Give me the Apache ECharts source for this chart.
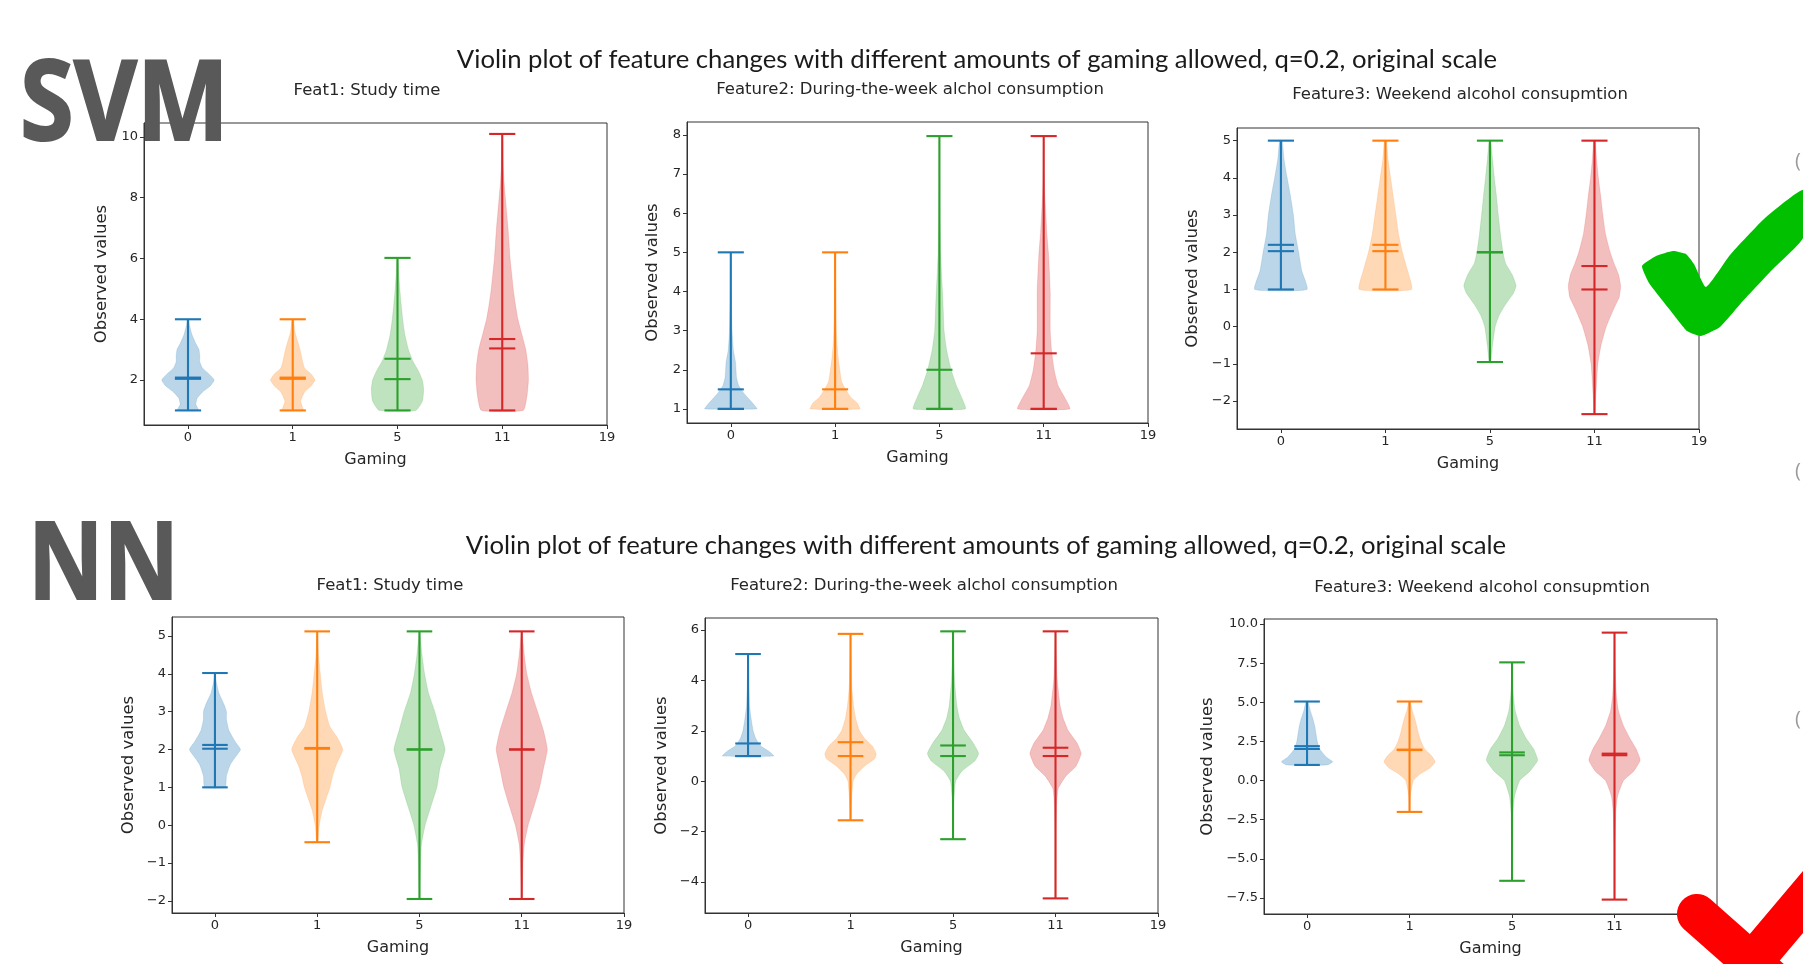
<!DOCTYPE html>
<html>
<head>
<meta charset="utf-8">
<script src="https://cdn.jsdelivr.net/npm/echarts@6/dist/echarts.min.js"></script>
<style>
  html, body { margin: 0; padding: 0; background: #fff; }
  #main { width: 1803px; height: 964px; }
</style>
</head>
<body>
<div id="main"></div>
<script>
// violin positions on the x axis and the tick labels shown
const positions = [1, 2, 3, 4];
const xTickPos = [1, 2, 3, 4, 5];
const xTickLabels = ['0', '1', '5', '11', '19'];
const colors = ['#1f77b4', '#ff7f0e', '#2ca02c', '#d62728'];

// ---- SVM, Feat1: Study time
const svmStudyMin = [1, 1, 1, 1];
const svmStudyMax = [4, 4, 6.02, 10.1];
const svmStudyMean = [2.08, 2.08, 2.7, 3.35];
const svmStudyMedian = [2.04, 2.04, 2.03, 3.04];
// [value, relative half width]
const svmStudyShape = [
  [[1,0.4],[1.2,0.3],[1.4,0.35],[1.6,0.55],[1.8,0.85],[2,1],[2.2,0.8],[2.4,0.55],[2.6,0.45],[2.8,0.45],[3,0.42],[3.2,0.3],[3.5,0.15],[3.8,0.06],[4,0.03]],
  [[1,0.4],[1.3,0.3],[1.6,0.45],[1.8,0.7],[2,0.85],[2.2,0.7],[2.4,0.45],[2.6,0.38],[2.8,0.33],[3,0.28],[3.3,0.18],[3.6,0.08],[4,0.03]],
  [[1,0.7],[1.3,0.95],[1.7,1],[2,0.95],[2.3,0.8],[2.6,0.6],[3,0.42],[3.5,0.28],[4,0.2],[4.5,0.14],[5,0.09],[5.5,0.05],[6.02,0.02]],
  [[1,0.8],[1.5,0.95],[2,1],[2.5,0.98],[3,0.9],[3.5,0.75],[4,0.6],[4.5,0.5],[5,0.42],[5.5,0.36],[6,0.3],[6.5,0.26],[7,0.22],[7.5,0.17],[8,0.12],[8.5,0.07],[9,0.04],[10.1,0.01]]
];

// ---- SVM, Feature2: During-the-week alcohol
const svmWeekMin = [1, 1, 1, 1];
const svmWeekMax = [5, 5, 7.97, 7.97];
const svmWeekMean = [1.5, 1.5, 2.0, 2.42];
const svmWeekMedian = [1, 1, 1, 1];
const svmWeekShape = [
  [[1,1],[1.1,0.9],[1.25,0.7],[1.4,0.5],[1.6,0.3],[1.8,0.22],[2,0.2],[2.2,0.18],[2.5,0.1],[3,0.05],[4,0.02],[5,0.01]],
  [[1,0.95],[1.15,0.85],[1.3,0.6],[1.5,0.4],[1.7,0.25],[2,0.18],[2.3,0.12],[2.6,0.08],[3,0.05],[4,0.02],[5,0.01]],
  [[1,1],[1.3,0.85],[1.6,0.65],[2,0.45],[2.5,0.28],[3,0.18],[3.5,0.15],[4,0.12],[4.5,0.08],[5,0.05],[6,0.02],[7,0.01],[7.97,0.005]],
  [[1,1],[1.3,0.8],[1.6,0.55],[2,0.4],[2.5,0.3],[3,0.25],[3.5,0.25],[4,0.25],[4.5,0.22],[5,0.18],[5.5,0.12],[6,0.08],[6.5,0.04],[7,0.02],[7.97,0.005]]
];

// ---- SVM, Feature3: Weekend alcohol
const svmWeekendMin = [1, 1, -0.95, -2.35];
const svmWeekendMax = [5, 5, 5, 5];
const svmWeekendMean = [2.2, 2.2, 2.0, 1.63];
const svmWeekendMedian = [2.03, 2.03, 2.0, 1.0];
const svmWeekendShape = [
  [[1,1],[1.5,0.8],[2,0.68],[2.5,0.55],[3,0.48],[3.5,0.37],[4,0.24],[4.5,0.12],[5,0.05]],
  [[1,1],[1.5,0.85],[2,0.65],[2.5,0.5],[3,0.4],[3.5,0.3],[4,0.2],[4.5,0.1],[5,0.04]],
  [[-0.95,0.03],[-0.5,0.1],[0,0.2],[0.3,0.35],[0.6,0.6],[0.9,0.9],[1.1,1],[1.4,0.85],[1.7,0.6],[2,0.5],[2.5,0.4],[3,0.32],[3.5,0.25],[4,0.17],[4.5,0.1],[5,0.03]],
  [[-2.35,0.02],[-2,0.04],[-1.5,0.08],[-1,0.13],[-0.5,0.25],[0,0.45],[0.5,0.75],[0.8,0.95],[1.1,1],[1.4,0.92],[1.7,0.75],[2,0.6],[2.5,0.42],[3,0.32],[3.5,0.24],[4,0.15],[4.5,0.08],[5,0.03]]
];

// ---- NN, Feat1: Study time
const nnStudyMin = [1.0, -0.45, -1.95, -1.95];
const nnStudyMax = [4.02, 5.12, 5.12, 5.12];
const nnStudyMean = [2.12, 2.04, 2.0, 2.0];
const nnStudyMedian = [2.02, 2.02, 2.0, 2.0];
const nnStudyShape = [
  [[1,0.4],[1.3,0.45],[1.6,0.6],[1.8,0.8],[2,1],[2.2,0.8],[2.5,0.55],[2.8,0.45],[3,0.45],[3.2,0.35],[3.5,0.15],[3.8,0.05],[4.02,0.02]],
  [[-0.45,0.02],[0,0.08],[0.4,0.2],[0.7,0.35],[1,0.5],[1.3,0.6],[1.6,0.75],[2,1],[2.3,0.8],[2.6,0.5],[3,0.33],[3.5,0.2],[4,0.12],[4.5,0.05],[5.12,0.01]],
  [[-1.95,0.01],[-1,0.04],[-0.5,0.08],[0,0.22],[0.5,0.45],[1,0.68],[1.5,0.8],[2,1],[2.5,0.8],[3,0.6],[3.5,0.35],[4,0.2],[4.5,0.1],[5.12,0.01]],
  [[-1.95,0.01],[-1,0.05],[-0.5,0.1],[0,0.25],[0.5,0.48],[1,0.7],[1.5,0.85],[2,1],[2.5,0.85],[3,0.62],[3.5,0.38],[4,0.2],[4.5,0.1],[5.12,0.01]]
];

// ---- NN, Feature2: During-the-week alcohol
const nnWeekMin = [1.0, -1.55, -2.3, -4.65];
const nnWeekMax = [5.05, 5.85, 5.95, 5.95];
const nnWeekMean = [1.5, 1.55, 1.42, 1.33];
const nnWeekMedian = [1.0, 1.0, 1.0, 1.0];
const nnWeekShape = [
  [[1,1],[1.2,0.8],[1.4,0.5],[1.7,0.3],[2,0.2],[2.5,0.12],[3,0.06],[4,0.03],[5.05,0.01]],
  [[-1.55,0.02],[-1,0.03],[0,0.1],[0.3,0.25],[0.6,0.55],[0.9,0.95],[1.1,1],[1.4,0.85],[1.7,0.55],[2,0.35],[2.5,0.2],[3,0.12],[3.5,0.07],[4,0.04],[5,0.02],[5.85,0.01]],
  [[-2.3,0.01],[-1,0.02],[0,0.1],[0.4,0.35],[0.8,0.85],[1.1,1],[1.5,0.8],[2,0.45],[2.5,0.25],[3,0.15],[4,0.06],[5,0.03],[5.95,0.01]],
  [[-4.65,0.01],[-2,0.02],[-1,0.04],[-0.3,0.1],[0.2,0.4],[0.6,0.8],[1.1,1],[1.5,0.85],[2,0.5],[2.5,0.3],[3,0.18],[4,0.07],[5,0.03],[5.95,0.01]]
];

// ---- NN, Feature3: Weekend alcohol
const nnWeekendMin = [1.0, -2.0, -6.4, -7.6];
const nnWeekendMax = [5.05, 5.05, 7.55, 9.45];
const nnWeekendMean = [2.2, 1.98, 1.8, 1.72];
const nnWeekendMedian = [2.02, 1.95, 1.62, 1.62];
const nnWeekendShape = [
  [[1,0.8],[1.2,1],[1.5,0.75],[2,0.5],[2.5,0.4],[3,0.35],[3.5,0.3],[4,0.22],[4.5,0.12],[5.05,0.04]],
  [[-2,0.01],[-1,0.03],[0,0.15],[0.4,0.4],[0.8,0.8],[1.2,1],[1.6,0.85],[2,0.6],[2.5,0.45],[3,0.35],[3.5,0.28],[4,0.2],[4.5,0.1],[5.05,0.03]],
  [[-6.4,0.01],[-4,0.02],[-2,0.04],[-1,0.1],[0,0.3],[0.6,0.7],[1.3,1],[2,0.85],[2.7,0.55],[3.5,0.3],[4.5,0.12],[5.5,0.05],[6.5,0.02],[7.55,0.01]],
  [[-7.6,0.01],[-4,0.02],[-2,0.05],[-1,0.12],[0,0.35],[0.6,0.75],[1.3,1],[2,0.85],[2.7,0.6],[3.5,0.35],[4.5,0.15],[5.5,0.07],[7,0.03],[9.45,0.01]]
];

// y ticks of each panel
const svmStudyTicks = [2, 4, 6, 8, 10];
const svmWeekTicks = [1, 2, 3, 4, 5, 6, 7, 8];
const svmWeekendTicks = [-2, -1, 0, 1, 2, 3, 4, 5];
const nnStudyTicks = [-2, -1, 0, 1, 2, 3, 4, 5];
const nnWeekTicks = [-4, -2, 0, 2, 4, 6];
const nnWeekendTicks = [-7.5, -5, -2.5, 0, 2.5, 5, 7.5, 10];

const panels = [
  { title: 'Feat1: Study time', min: svmStudyMin, max: svmStudyMax, mean: svmStudyMean, median: svmStudyMedian, shape: svmStudyShape, ticks: svmStudyTicks, yMin: 0.52, yMax: 10.46, dec: 0 },
  { title: 'Feature2: During-the-week alchol consumption', min: svmWeekMin, max: svmWeekMax, mean: svmWeekMean, median: svmWeekMedian, shape: svmWeekShape, ticks: svmWeekTicks, yMin: 0.64, yMax: 8.33, dec: 0 },
  { title: 'Feature3: Weekend alcohol consupmtion', min: svmWeekendMin, max: svmWeekendMax, mean: svmWeekendMean, median: svmWeekendMedian, shape: svmWeekendShape, ticks: svmWeekendTicks, yMin: -2.75, yMax: 5.34, dec: 0 },
  { title: 'Feat1: Study time', min: nnStudyMin, max: nnStudyMax, mean: nnStudyMean, median: nnStudyMedian, shape: nnStudyShape, ticks: nnStudyTicks, yMin: -2.32, yMax: 5.5, dec: 0 },
  { title: 'Feature2: During-the-week alchol consumption', min: nnWeekMin, max: nnWeekMax, mean: nnWeekMean, median: nnWeekMedian, shape: nnWeekShape, ticks: nnWeekTicks, yMin: -5.23, yMax: 6.48, dec: 0 },
  { title: 'Feature3: Weekend alcohol consupmtion', min: nnWeekendMin, max: nnWeekendMax, mean: nnWeekendMean, median: nnWeekendMedian, shape: nnWeekendShape, ticks: nnWeekendTicks, yMin: -8.52, yMax: 10.32, dec: 1 }
];

// layout: grid boxes, y name gap, subtitle position
const layout = [
  { left: 144, top: 123, width: 463, height: 302, gap: 34, tx: 367, ty: 91 },
  { left: 687, top: 122, width: 461, height: 301, gap: 26, tx: 910, ty: 90 },
  { left: 1237, top: 128, width: 462, height: 301, gap: 36, tx: 1460, ty: 95 },
  { left: 172, top: 617, width: 452, height: 296, gap: 35, tx: 390, ty: 586 },
  { left: 705, top: 618, width: 453, height: 295, gap: 35, tx: 924, ty: 586 },
  { left: 1264, top: 619, width: 453, height: 295, gap: 48, tx: 1482, ty: 588 }
];

const halfWidth = 0.25;  // violin body half width
const capHalf = 0.125;   // cap / mean / median line half width
const tickFont = 'DejaVu Sans';
const ink = '#262626';

function fmtY(dec) {
  return v => (dec ? Number(v).toFixed(dec) : String(v)).replace('-', '\u2212');
}

function renderViolin(p) {
  return function (params, api) {
    const x = api.value(0);
    const i = api.value(5);
    const color = colors[i];
    const prof = p.shape[i];
    const pts = prof.map(d => api.coord([x - d[1] * halfWidth, d[0]]))
      .concat(prof.slice().reverse().map(d => api.coord([x + d[1] * halfWidth, d[0]])));
    const seg = (x0, y0, x1, y1) => {
      const a = api.coord([x0, y0]);
      const b = api.coord([x1, y1]);
      return { type: 'line', shape: { x1: a[0], y1: a[1], x2: b[0], y2: b[1] }, style: { stroke: color, lineWidth: 2.1 } };
    };
    const lo = api.value(1), hi = api.value(2), mn = api.value(3), md = api.value(4);
    return {
      type: 'group',
      children: [
        { type: 'polygon', shape: { points: pts, smooth: 0.15 }, style: { fill: color, opacity: 0.3, stroke: color, lineWidth: 0.5 } },
        seg(x, lo, x, hi),
        seg(x - capHalf, lo, x + capHalf, lo),
        seg(x - capHalf, hi, x + capHalf, hi),
        seg(x - capHalf, mn, x + capHalf, mn),
        seg(x - capHalf, md, x + capHalf, md)
      ]
    };
  };
}

const grids = [], xAxes = [], yAxes = [], series = [];
panels.forEach((p, k) => {
  const L = layout[k];
  grids.push({ left: L.left, top: L.top, width: L.width, height: L.height, show: true, borderColor: '#333', borderWidth: 1, containLabel: false });
  xAxes.push({
    type: 'value', gridIndex: k, min: 0.58, max: 5,
    name: 'Gaming', nameLocation: 'middle', nameGap: 27,
    nameTextStyle: { fontFamily: tickFont, fontSize: 16, color: ink },
    axisLine: { show: true, onZero: false, lineStyle: { color: '#333', width: 1 } },
    axisTick: { show: true, length: 4, lineStyle: { color: '#333' }, customValues: xTickPos },
    axisLabel: { customValues: xTickPos, margin: 6, fontFamily: tickFont, fontSize: 13, color: ink,
      formatter: v => xTickLabels[xTickPos.indexOf(Math.round(v))] },
    splitLine: { show: false }
  });
  yAxes.push({
    type: 'value', gridIndex: k, min: p.yMin, max: p.yMax,
    name: 'Observed values', nameLocation: 'middle', nameGap: L.gap, nameRotate: 90,
    nameTextStyle: { fontFamily: tickFont, fontSize: 16.5, color: ink },
    axisLine: { show: true, onZero: false, lineStyle: { color: '#333', width: 1 } },
    axisTick: { show: true, length: 4, lineStyle: { color: '#333' }, customValues: p.ticks },
    axisLabel: { customValues: p.ticks, margin: 6, fontFamily: tickFont, fontSize: 13, color: ink, formatter: fmtY(p.dec) },
    splitLine: { show: false }
  });
  series.push({
    type: 'custom', xAxisIndex: k, yAxisIndex: k,
    renderItem: renderViolin(p),
    encode: { x: 0, y: [1, 2] },
    data: positions.map((pos, i) => [pos, p.min[i], p.max[i], p.mean[i], p.median[i], i]),
    silent: true
  });
});

const mainTitle = 'Violin plot of feature changes with different amounts of gaming allowed, q=0.2, original scale';

const graphics = [
  { type: 'text', x: 977, y: 60, style: { text: mainTitle, font: '25.7px Lato', fill: '#1a1a1a', align: 'center', verticalAlign: 'middle' } },
  { type: 'text', x: 986, y: 546, style: { text: mainTitle, font: '25.7px Lato', fill: '#1a1a1a', align: 'center', verticalAlign: 'middle' } }
];
panels.forEach((p, k) => {
  const L = layout[k];
  graphics.push({ type: 'text', x: L.tx, y: L.ty, style: { text: p.title, font: '16.5px "DejaVu Sans"', fill: ink, align: 'center', verticalAlign: 'middle' } });
});
// big method labels
graphics.push({ type: 'text', x: 20, y: 108, scaleX: 0.87, z: 50,
  style: { text: 'SVM', font: 'bold 112px "Open Sans"', fill: '#595959', stroke: '#595959', lineWidth: 2, verticalAlign: 'middle',
    shadowBlur: 10, shadowColor: 'rgba(0,0,0,0.45)', shadowOffsetX: 3, shadowOffsetY: 4 } });
graphics.push({ type: 'text', x: 28, y: 568, scaleX: 0.86, z: 50,
  style: { text: 'NN', font: 'bold 108px "Open Sans"', fill: '#595959', stroke: '#595959', lineWidth: 2, verticalAlign: 'middle',
    shadowBlur: 10, shadowColor: 'rgba(0,0,0,0.45)', shadowOffsetX: 3, shadowOffsetY: 4 } });
// green check mark
graphics.push({ type: 'polygon', z: 50,
  shape: { smooth: 0.15, points: [[1642,266],[1656,256],[1673,251],[1686,254],[1694,264],[1706,287],[1730,255],[1765,218],[1803,190],[1803,238],[1772,270],[1742,302],[1720,327],[1701,336],[1687,331],[1670,310],[1649,283]] },
  style: { fill: '#00c000' } });
// red cross
graphics.push({ type: 'line', z: 50, shape: { x1: 1697, y1: 914, x2: 1800, y2: 1005 }, style: { stroke: '#ff0000', lineWidth: 40, lineCap: 'round' } });
graphics.push({ type: 'line', z: 50, shape: { x1: 1825, y1: 876, x2: 1700, y2: 1024 }, style: { stroke: '#ff0000', lineWidth: 40, lineCap: 'round' } });
// partly cut glyphs on the right edge
[161, 471, 719].forEach(y => {
  graphics.push({ type: 'text', x: 1795, y: y, style: { text: '(', font: '20px "Open Sans"', fill: '#9a9a9a', verticalAlign: 'middle' } });
});

const chart = echarts.init(document.getElementById('main'));
chart.setOption({
  backgroundColor: '#fff',
  animation: false,
  grid: grids,
  xAxis: xAxes,
  yAxis: yAxes,
  series: series,
  graphic: graphics
});
</script>
</body>
</html>
